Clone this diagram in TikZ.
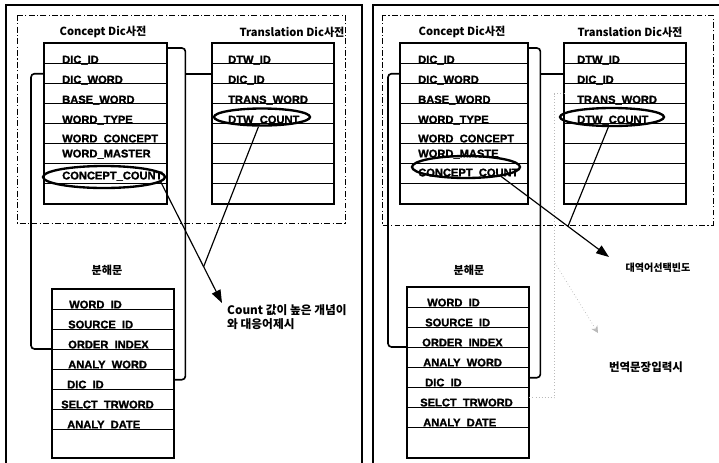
\documentclass[tikz,border=0pt]{standalone}
\usepackage{fontspec}
\setmainfont{Liberation Sans}[BoldFeatures={FakeBold=1.5}]
\newfontfamily\krfont{Noto Sans CJK KR}
\usetikzlibrary{positioning, arrows.meta, calc, shapes.geometric}

\tikzset{
  fieldrow/.style={draw, line width=1.2pt, rectangle, inner sep=0pt, anchor=north west},
  fieldtxt/.style={anchor=base west, inner sep=0pt, font=\fontsize{9.5}{10}\selectfont\bfseries},
  tabletitle/.style={inner sep=0pt, font=\krfont\fontsize{9.5}{11}\selectfont\bfseries},
  note/.style={inner sep=0pt, align=left, font=\krfont\fontsize{10}{12}\selectfont\bfseries},
  link/.style={line width=1.4pt, rounded corners=3pt},
  pointer/.style={line width=1pt, -{Triangle[length=11pt, width=8pt]}},
  countring/.style={draw, ellipse, line width=2pt, inner sep=0pt},
  panel/.style={line width=1pt},
  zone/.style={line width=0.6pt, dash pattern=on 5pt off 2pt on 1pt off 2pt},
  hint/.style={gray!55, line width=0.6pt, dotted}
}

% prefix, x, y, width, rows, last row height (all in px)
\newcommand{\fieldtable}[6]{%
  \foreach \i in {1,...,#5} {
    \pgfmathsetmacro{\rh}{\i==#5 ? #6 : 20}
    \node[fieldrow, minimum width=#4*0.03cm, minimum height=\rh*0.03cm] (#1\i) at (#2, {#3+(\i-1)*20}) {};
  }
  \draw[line width=1.8pt] (#11.north west) rectangle (#1#5.south east);
}

\begin{document}
\begin{tikzpicture}[x=0.03cm, y=-0.03cm]
    \useasboundingbox (0,0) rectangle (719,462);
    \clip (0,0) rectangle (719,462);

    % Panels and dictionary zones
    \draw[panel] (6,5) rectangle (362,480);
    \draw[panel] (373,5) rectangle (740,480);
    \draw[zone] (17,15) rectangle (345,223);
    \draw[zone] (382,15) rectangle (713,225);

    % ---------- left panel ----------
    \node[tabletitle] (lcdTitle) at (103,32) {Concept Dic사전};
    \node[tabletitle] (ltdTitle) at (292,32) {Translation Dic사전};
    \node[tabletitle] (lbhTitle) at (107,270) {분해문};

    \fieldtable{cd}{44}{43}{122}{8}{20}
    \fieldtable{td}{212}{43}{121}{8}{20}
    \fieldtable{bh}{52}{289}{121}{8}{28}

    \foreach \t/\d [count=\i] in {DIC\_ID/1, DIC\_WORD/1, BASE\_WORD/1, WORD\_TYPE/1, WORD\_CONCEPT/2, WORD\_MASTER/7, CONCEPT\_COUNT/5}
        \node[fieldtxt] (cdt\i) at ($(cd\i.south west)+(18,-\d)$) {\t};
    \foreach \t [count=\i] in {DTW\_ID, DIC\_ID, TRANS\_WORD, DTW\_COUNT}
        \node[fieldtxt] (tdt\i) at ($(td\i.south west)+(16,-1)$) {\t};
    \foreach \t/\o [count=\i] in {WORD\_ID/17, SOURCE\_ID/16, ORDER\_INDEX/16, ANALY\_WORD/16, DIC\_ID/15, SELCT\_TRWORD/9, ANALY\_DATE/15}
        \node[fieldtxt] (bht\i) at ($(bh\i.south west)+(\o,-2)$) {\t};

    % key links
    \draw[link] ($(cd1.north east)+(0,5)$) -- ++(18,0) coordinate (busL) |- (bh5.east);
    \draw[link] (td2.west) -- (td2.west -| busL);
    \draw[link] (cd2.west) -- ++(-13,0) |- (bh4.north west);

    % count marks
    \node[countring, minimum width=122*0.03cm, minimum height=22*0.03cm] (cring) at (104,177) {};
    \node[countring, minimum width=96*0.03cm, minimum height=17*0.03cm] (tring) at (262,117) {};
    \coordinate (tipL) at (222,303);
    \draw[pointer] (cring.-5) -- (tipL);
    \coordinate (mergeL) at ($(cring.-5)!0.7!(tipL)$);
    \draw[line width=1pt] (tring.-110) -- (mergeL);
    \node[note, anchor=north west] (noteL) at (227,304) {Count 값이 높은 개념이\\와 대응어제시};

    % ---------- right panel ----------
    \node[tabletitle] (rcdTitle) at (462,32) {Concept Dic사전};
    \node[tabletitle] (rtdTitle) at (630,32) {Translation Dic사전};
    \node[tabletitle] (rbhTitle) at (469,270) {분해문};

    \fieldtable{rcd}{400}{43}{127}{8}{20}
    \fieldtable{rtd}{564}{43}{121}{8}{20}
    \fieldtable{rbh}{407}{287}{121}{8}{30}

    \foreach \t/\d [count=\i] in {DIC\_ID/1, DIC\_WORD/1, BASE\_WORD/1, WORD\_TYPE/1, WORD\_CONCEPT/2, WORD\_MASTE/7, CONCEPT\_COUNT/8}
        \node[fieldtxt] (rcdt\i) at ($(rcd\i.south west)+(18,-\d)$) {\t};
    \foreach \t [count=\i] in {DTW\_ID, DIC\_ID, TRANS\_WORD, DTW\_COUNT}
        \node[fieldtxt] (rtdt\i) at ($(rtd\i.south west)+(13,-1)$) {\t};
    \foreach \t/\o [count=\i] in {WORD\_ID/20, SOURCE\_ID/18, ORDER\_INDEX/15, ANALY\_WORD/16, DIC\_ID/18, SELCT\_TRWORD/13, ANALY\_DATE/16}
        \node[fieldtxt] (rbht\i) at ($(rbh\i.south west)+(\o,-2)$) {\t};

    \draw[link] ($(rcd1.north east)+(0,5)$) -- ++(12,0) coordinate (busR) |- (rbh5.east);
    \draw[link] (rtd2.west) -- (rtd2.west -| busR);
    \draw[link] (rcd2.west) -- ++(-12,0) |- (rbh4.north west);

    % faint input path
    \draw[hint] (rbh6.east) -- ++(25,0) |- (rtd3.west);
    \coordinate (hintS) at (555,263);
    \coordinate (hintE) at (598,333);
    \draw[hint, -{Stealth[length=6pt, width=6pt]}] (hintS) -- (hintE);

    \node[countring, minimum width=108*0.03cm, minimum height=22*0.03cm] (rcring) at (466,167) {};
    \node[countring, minimum width=104*0.03cm, minimum height=18*0.03cm] (rtring) at (612,117) {};
    \coordinate (tipR) at (609,257);
    \draw[pointer] (rcring.-15) -- (tipR);
    \coordinate (mergeR) at ($(rcring.-15)!0.62!(tipR)$);
    \draw[line width=1pt] (rtring.-110) -- (mergeR);

    \node[note, font=\krfont\fontsize{8.6}{10}\selectfont\bfseries] (noteR1) at (658,268) {대역어선택빈도};
    \node[note, font=\krfont\fontsize{9.8}{12}\selectfont\bfseries] (noteR2) at (646,367) {번역문장입력시};
\end{tikzpicture}
\end{document}
